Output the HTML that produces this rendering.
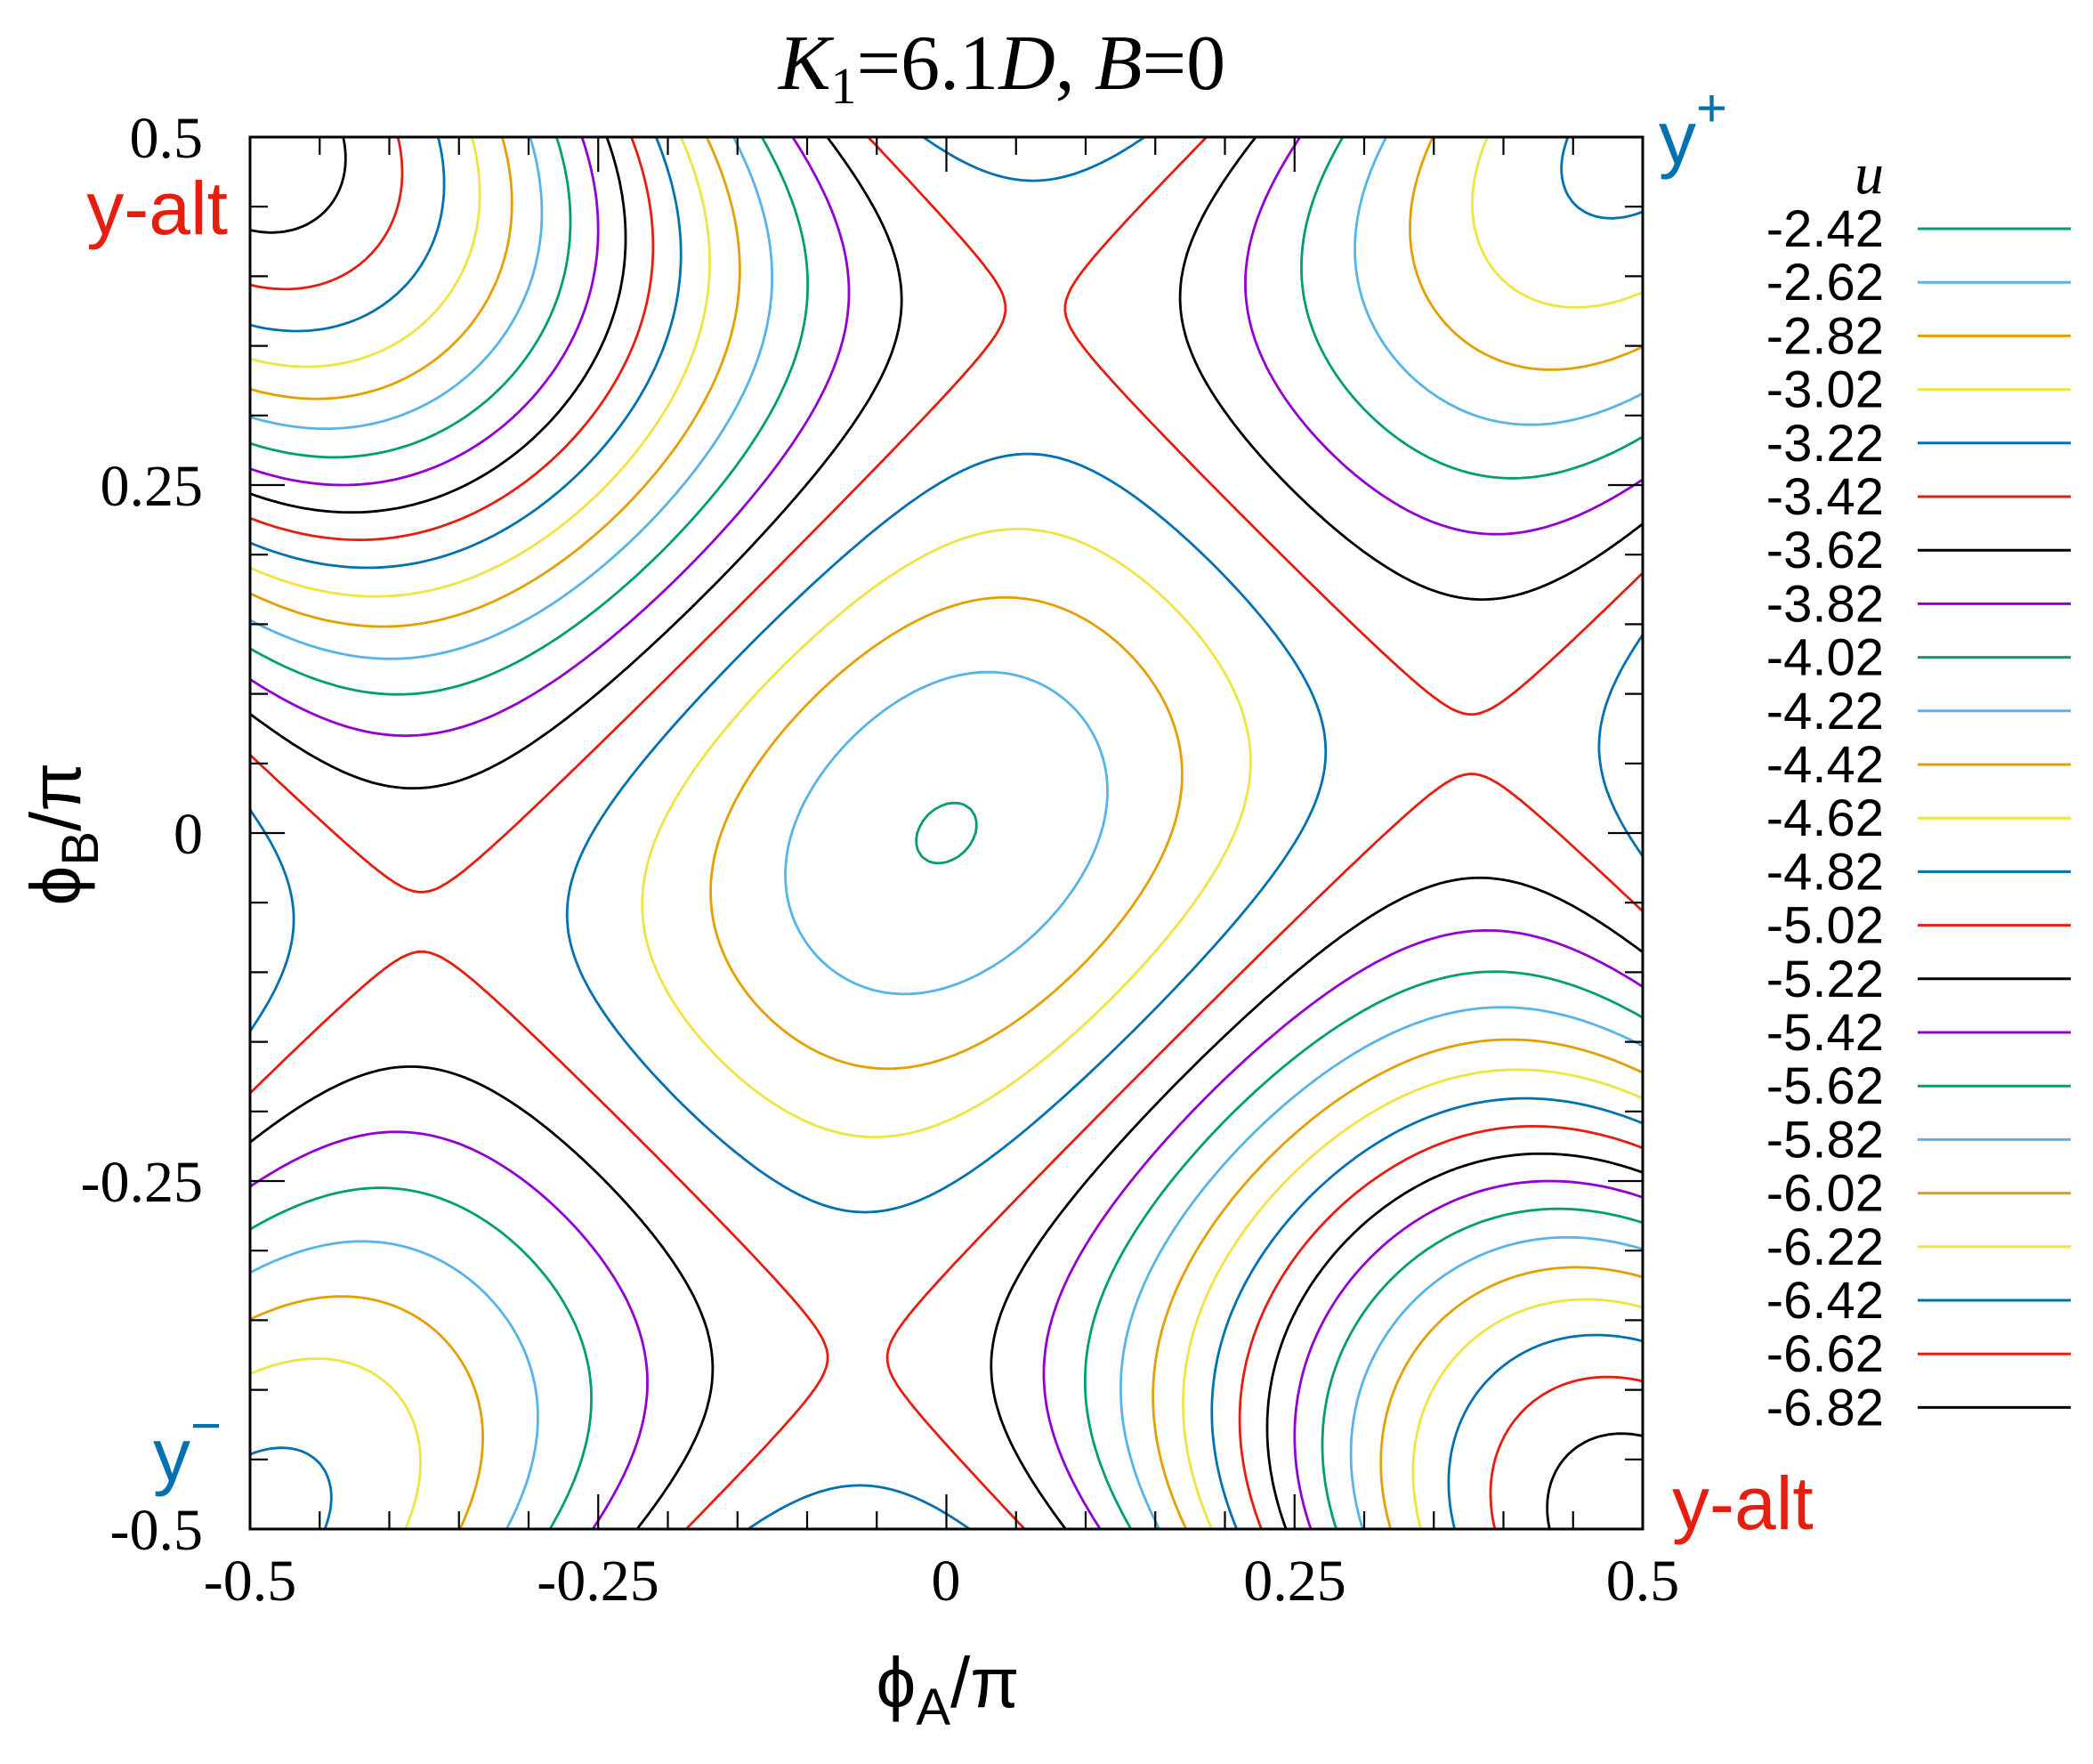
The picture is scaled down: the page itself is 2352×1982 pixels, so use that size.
<!DOCTYPE html>
<html><head><meta charset="utf-8"><style>
html,body{margin:0;padding:0;background:#fff;}
svg{display:block;}
</style></head><body>
<svg id="s" width="2352" height="1982" viewBox="0 0 2352 1982" xmlns="http://www.w3.org/2000/svg">
<rect width="2352" height="1982" fill="#fff"/>
<g id="cont" fill="none" stroke-width="2.8" stroke-linejoin="round" stroke-linecap="round"></g>
<g id="ticks" stroke="#000" stroke-width="2.2"></g>
<rect x="281" y="154" width="1565" height="1564" fill="none" stroke="#000" stroke-width="3"/>
<text x="1126" y="100" text-anchor="middle" font-family="Liberation Serif, serif" font-size="88"><tspan font-style="italic">K</tspan><tspan font-size="58" dy="16">1</tspan><tspan dy="-16">=6.1</tspan><tspan font-style="italic">D</tspan>, <tspan font-style="italic">B</tspan>=0</text>
<g font-family="Liberation Serif, serif" font-size="66" fill="#000">
<text x="228" y="177" text-anchor="end">0.5</text>
<text x="228" y="568" text-anchor="end">0.25</text>
<text x="228" y="959" text-anchor="end">0</text>
<text x="228" y="1350" text-anchor="end">-0.25</text>
<text x="228" y="1741" text-anchor="end">-0.5</text>
<text x="281" y="1798" text-anchor="middle">-0.5</text>
<text x="672" y="1798" text-anchor="middle">-0.25</text>
<text x="1063" y="1798" text-anchor="middle">0</text>
<text x="1455" y="1798" text-anchor="middle">0.25</text>
<text x="1846" y="1798" text-anchor="middle">0.5</text>
</g>
<text x="1065" y="1918" text-anchor="middle" font-family="Liberation Sans, DejaVu Sans, sans-serif" font-size="80">ϕ<tspan font-size="58" dy="20">A</tspan><tspan dy="-20">/π</tspan></text>
<text transform="translate(90,937) rotate(-90)" text-anchor="middle" font-family="Liberation Sans, DejaVu Sans, sans-serif" font-size="80">ϕ<tspan font-size="58" dy="20">B</tspan><tspan dy="-20">/π</tspan></text>
<g font-family="Liberation Sans, sans-serif" font-size="84">
<text x="256" y="263" text-anchor="end" fill="#e51e10">y-alt</text>
<text x="1879" y="1718" fill="#e51e10">y-alt</text>
<text x="1864" y="184" fill="#0072b2">y<tspan font-size="60" dy="-42">+</tspan></text>
<text x="172" y="1664" fill="#0072b2">y<tspan font-size="60" dy="-42">−</tspan></text>
</g>
<text x="2117" y="217" text-anchor="end" font-family="Liberation Serif, serif" font-style="italic" font-size="66">u</text>
<g id="leg" font-family="Liberation Sans, sans-serif" font-size="58"></g>
</svg>
<script>
(function(){
var NS="http://www.w3.org/2000/svg";
var cols=["#009e73","#56b4e9","#e69f00","#f0e442","#0072b2","#e51e10","#000000","#9400d3"];
var levels=[];for(var k=0;k<23;k++)levels.push(-2.42-0.2*k);
var leg=document.getElementById('leg');
for(var k=0;k<23;k++){
 var y=277+60.2*k;
 var t=document.createElementNS(NS,'text');t.setAttribute('x',2117);t.setAttribute('y',y);t.setAttribute('text-anchor','end');
 t.textContent=levels[k].toFixed(2);leg.appendChild(t);
 var l=document.createElementNS(NS,'line');l.setAttribute('x1',2155);l.setAttribute('x2',2327);l.setAttribute('y1',y-20);l.setAttribute('y2',y-20);
 l.setAttribute('stroke',cols[k%8]);l.setAttribute('stroke-width',3);leg.appendChild(l);
}
var tg=document.getElementById('ticks');var td="";
for(var i=0;i<=20;i++){
 var f=i/20, len=(i%5==0)?39:20;
 var px=281+f*1565, py=154+f*1564;
 td+="M"+px+" 154v"+len+"M"+px+" 1718v"+(-len)+"M281 "+py+"h"+len+"M1846 "+py+"h"+(-len);
}
var tp=document.createElementNS(NS,'path');tp.setAttribute('d',td);tg.appendChild(tp);
var D1=[
[-6.82,[22,252,120,232,200,170,240,80,245,28]],
[-6.62,[22,358,185,345,300,262,355,110,352,28]],
[-6.42,[22,443,140,450,245,430,385,330,440,150,435,28]],
[-6.22,[22,517,160,532,290,510,440,400,520,250,510,28]],
[-6.02,[22,580,180,595,315,570,425,515,510,435,565,320,588,185,575,28]],
[-5.82,[22,648,220,670,400,630,520,540,600,420,655,250,660,150,640,28]],
[-5.62,[22,702,230,732,440,680,600,560,700,380,725,200,695,28]],
[-5.42,[22,760,255,795,480,735,640,610,750,440,785,300,775,120,752,28]],
[-5.22,[22,812,230,855,500,800,700,640,800,490,848,270,838,150,806,28]],
[-5.02,[22,868,270,915,470,880,700,720,860,500,905,340,900,180,860,28]],
[-4.82,[22,922,290,978,560,900,850,650,940,470,970,300,915,28]],
[-4.62,[22,980,300,1040,560,980,850,760,990,560,1030,300,970,28]],
[-4.42,[22,1037,320,1108,590,1040,840,860,1040,620,1100,380,1080,150,1030,28]],
[-4.22,[22,1095,340,1177,600,1110,920,830,1100,600,1170,350,1088,28]],
[-4.02,[22,1155,360,1260,640,1150,1000,800,1230,500,1255,330,1150,28]],
[-3.82,[22,1222,370,1343,640,1230,960,980,1200,700,1335,400,1310,260,1215,28]],
[-3.62,[22,1298,380,1457,620,1385,960,1100,1300,740,1440,480,1450,380,1380,150,1290,28]],
[-3.42,[22,1380,210,1568,600,1560,1100,1100,1568,590,1370,28,1568,230]],
[-3.22,[22,1490,60,1568,780,1568,1000,1280,1300,1000,1568,775,1485,28]],
[-3.02,[920,1568,1150,1250,1568,925]],
[-2.82,[1060,1568,1200,1320,1400,1150,1568,1065]],
[-2.62,[1220,1568,1350,1300,1568,1220]],
[-2.42,[1490,1568,1510,1500,1568,1495]]
];
var D2=[
[-3.22,[0,65,150,103,240,103,330,85,460,28]],
[-3.42,[0,205,70,280,118,415,70,540,0,610]],
[-3.42,[585,28,450,170,330,290,276,410,330,520,500,700,800,1000,1000,1180,1155,1293,1300,1220,1540,985]],
[-3.62,[690,28,560,230,530,380,570,560,700,730,900,930,1060,1020,1185,1042,1350,1000,1540,878]],
[-3.82,[785,28,690,200,665,350,700,520,830,700,1000,850,1225,905,1420,850,1540,785]],
[-4.02,[880,28,810,180,790,330,830,500,950,650,1150,770,1300,770,1540,690]],
[-4.22,[975,28,920,150,908,300,950,450,1080,590,1270,662,1400,650,1540,595]],
[-4.42,[1078,28,1035,180,1035,280,1080,420,1200,510,1340,538,1540,493]],
[-4.62,[1195,28,1175,110,1175,210,1210,298,1275,360,1360,393,1450,393,1540,372]],
[-4.82,[1375,28,1380,110,1420,175,1490,198,1540,198]],
[-3.22,[0,790,100,745,200,738,340,770,460,850,600,970,700,1080,800,1230,835,1370,800,1568]],
[-3.02,[0,935,180,885,360,940,480,1020,600,1150,680,1330,685,1390,640,1568]],
[-2.82,[0,1070,150,1050,330,1110,450,1200,510,1340,520,1450,500,1568]],
[-2.62,[0,1225,100,1215,250,1260,330,1350,355,1450,345,1568]],
[-2.42,[0,1495,50,1500,75,1540,75,1568]],
[-3.42,[960,1568,1050,1480,1150,1450,1250,1490,1360,1568]],
[-3.22,[1540,1110,1470,1300,1465,1400,1500,1540,1540,1568]]
];
var pts=[];
function add(D,ox,oy){D.forEach(function(e){var a=e[1];for(var i=0;i<a.length;i+=2){
 var X=ox+a[i]/1.96, Y=oy+a[i+1]/1.96; pts.push([(X-281)/1565-0.5,0.5-(Y-154)/1564,e[0]]);}});}
add(D1,270,140);add(D2,1060,140);
function addO(X,Y,u){pts.push([(X-281)/1565-0.5,0.5-(Y-154)/1564,u]);}
addO(1063,936,-2.39);addO(1160,350,-3.39);addO(1648,840,-3.39);
addO(281,154,-6.95);addO(1846,154,-4.92);
var terms=[[0,0],[2,0],[1,1],[1,-1],[2,2],[2,-2],[3,1],[3,-1],[4,0],[3,3],[3,-3],[4,2],[4,-2],[5,1],[5,-1],[4,4],[4,-4],[6,0]];
var K=terms.length;
function basis(x,y){var A=Math.PI*x,B=Math.PI*y,r=[];for(var i=0;i<K;i++){var m=terms[i][0],n=terms[i][1];
 r.push(Math.cos(m*A+n*B)+Math.cos(n*A+m*B));}return r;}
var M=[],v=[];for(var i=0;i<K;i++){M.push(new Array(K).fill(0));v.push(0);}
pts.forEach(function(p){var b=basis(p[0],p[1]);for(var i=0;i<K;i++){v[i]+=b[i]*p[2];for(var j=0;j<K;j++)M[i][j]+=b[i]*b[j];}});
for(var i=0;i<K;i++)M[i][i]+=1e-3;
for(var c=0;c<K;c++){var piv=c;for(var r=c+1;r<K;r++)if(Math.abs(M[r][c])>Math.abs(M[piv][c]))piv=r;
 var t=M[c];M[c]=M[piv];M[piv]=t;t=v[c];v[c]=v[piv];v[piv]=t;
 for(var r=c+1;r<K;r++){var f=M[r][c]/M[c][c];for(var j=c;j<K;j++)M[r][j]-=f*M[c][j];v[r]-=f*v[c];}}
var co=new Array(K).fill(0);
for(var r=K-1;r>=0;r--){var s=v[r];for(var j=r+1;j<K;j++)s-=M[r][j]*co[j];co[r]=s/M[r][r];}
function U(x,y){var b=basis(x,y),s=0;for(var i=0;i<K;i++)s+=co[i]*b[i];return s;}
var N=240,G=[];
for(var j=0;j<=N;j++){var row=[];for(var i=0;i<=N;i++)row.push(U(-0.5+i/N,0.5-j/N));G.push(row);}
function PX(i){return 281+i/N*1565;}function PY(j){return 154+j/N*1564;}
var cg=document.getElementById('cont');
levels.forEach(function(L,k){
 var d="";
 for(var j=0;j<N;j++)for(var i=0;i<N;i++){
  var a=G[j][i],b=G[j][i+1],c=G[j+1][i+1],e=G[j+1][i];
  var P=[];
  function ed(v1,v2,x1,y1,x2,y2){if((v1>L)!=(v2>L)){var t=(L-v1)/(v2-v1);P.push([x1+(x2-x1)*t,y1+(y2-y1)*t]);}}
  ed(a,b,PX(i),PY(j),PX(i+1),PY(j));
  ed(b,c,PX(i+1),PY(j),PX(i+1),PY(j+1));
  ed(c,e,PX(i+1),PY(j+1),PX(i),PY(j+1));
  ed(e,a,PX(i),PY(j+1),PX(i),PY(j));
  for(var q=0;q+1<P.length;q+=2)d+="M"+P[q][0].toFixed(1)+" "+P[q][1].toFixed(1)+"L"+P[q+1][0].toFixed(1)+" "+P[q+1][1].toFixed(1);
 }
 if(d){var p=document.createElementNS(NS,'path');p.setAttribute('d',d);p.setAttribute('stroke',cols[k%8]);cg.appendChild(p);}
});
})();
</script>
</body></html>
